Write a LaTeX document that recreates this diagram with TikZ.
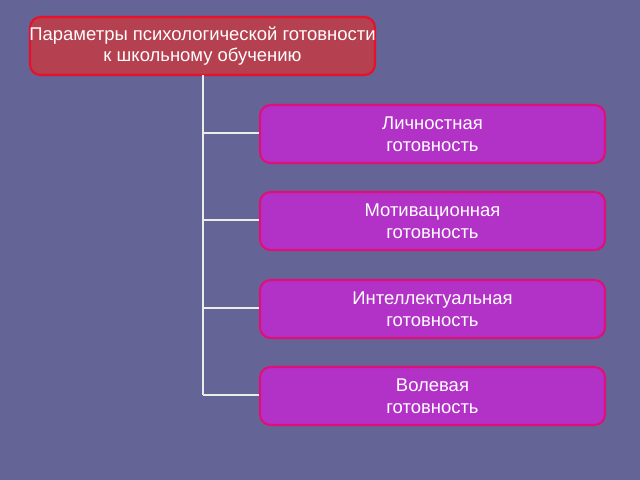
\documentclass[tikz,border=0pt]{standalone}
\usepackage{fontspec}
\setmainfont{Liberation Sans}
\definecolor{bgblue}{HTML}{646496}
\definecolor{headfill}{HTML}{B5404F}
\definecolor{headline}{HTML}{E8102A}
\definecolor{boxfill}{HTML}{B232C8}
\definecolor{boxline}{HTML}{E0107A}
\tikzset{
  head/.style={draw=headline, line width=1.2pt, fill=headfill, rounded corners=6pt,
    minimum width=6.9cm, minimum height=1.16cm},
  headtext/.style={align=center, text=white, inner sep=0pt,
    font=\fontsize{10.5}{12.4}\selectfont},
  param/.style={draw=boxline, line width=1.2pt, fill=boxfill, rounded corners=6pt,
    minimum width=6.9cm, minimum height=1.16cm, align=center, text=white,
    font=\fontsize{10.5}{12.4}\selectfont},
  tree/.style={draw=white!85!gray, line width=1.2pt}
}
\begin{document}
\begin{tikzpicture}[x=0.02cm, y=-0.02cm]
  \fill[bgblue] (0,0) rectangle (640,480);
  \useasboundingbox (0,0) rectangle (640,480);

  \node[head]     (top)     at (202.5,46) {};
  \node[headtext] (toptext) at (top.center) {Параметры психологической готовности\\к школьному обучению};
  \node[param] (pers) at (432.5,134) {Личностная\\ готовность};
  \node[param] (motv) at (432.5,221) {Мотивационная\\ готовность};
  \node[param] (intl) at (432.5,309) {Интеллектуальная\\готовность};
  \node[param] (will) at (432.5,396) {Волевая\\ готовность};

  \coordinate (root) at (203,75);
  \coordinate (j1) at (203,133);
  \coordinate (j2) at (203,220);
  \coordinate (j3) at (203,308);
  \coordinate (j4) at (203,395);

  \draw[tree] (root) -- (j4);
  \draw[tree] (j1) -- (j1 -| pers.west);
  \draw[tree] (j2) -- (j2 -| motv.west);
  \draw[tree] (j3) -- (j3 -| intl.west);
  \draw[tree] (j4) -- (j4 -| will.west);
\end{tikzpicture}
\end{document}
